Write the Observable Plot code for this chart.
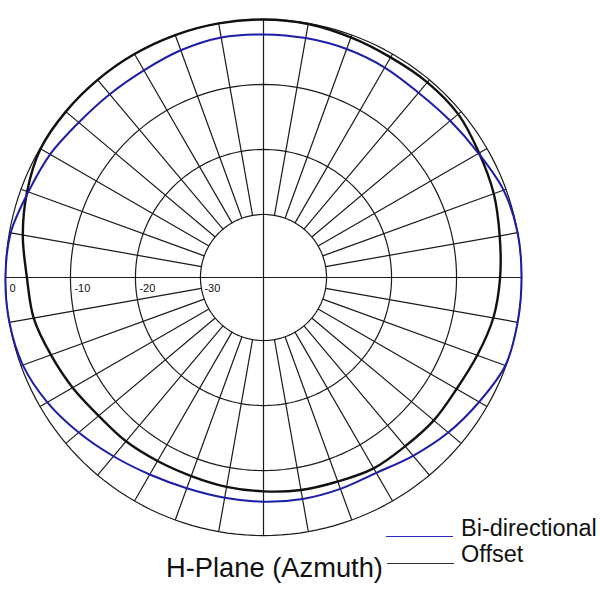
<!DOCTYPE html>
<html><head><meta charset="utf-8">
<script src="https://cdn.jsdelivr.net/npm/d3@7"></script>
<script src="https://cdn.jsdelivr.net/npm/@observablehq/plot@0.6"></script>
<style>
body{margin:0;background:#fff;font-family:"Liberation Sans",Arial,sans-serif;}
#wrap{position:relative;width:600px;height:600px;overflow:hidden;}
#chart{position:absolute;left:0;top:0;}
.lg{position:absolute;line-height:1;color:#111;white-space:nowrap;}
.sw{position:absolute;height:0;width:67px;}
</style></head><body>
<div id="wrap">
  <div id="chart"></div>
  <div class="sw" style="left:386px;top:536px;border-top:1.5px solid #2b2bc0;"></div>
  <div class="lg" style="left:461px;top:517px;font-size:23.5px;">Bi-directional</div>
  <div class="sw" style="left:387px;top:563px;border-top:1.5px solid #333;"></div>
  <div class="lg" style="left:461px;top:543px;font-size:23.5px;">Offset</div>
  <div class="lg" style="left:166px;top:554px;font-size:27.3px;">H-Plane (Azmuth)</div>
</div>
<script>
// Angles in degrees (counter-clockwise from the right-hand horizontal axis)
const angles = [0,10,20,30,40,50,60,70,80,90,100,110,120,130,140,150,160,170,
                180,190,200,210,220,230,240,250,260,270,280,290,300,310,320,330,340,350];
// Relative gain in dB
const biDirectional = [0,0,-0.4,-1.5,-2.2,-2.6,-2.4,-2.3,-2.3,-2.3,-2.2,-2.5,-2.9,-2.9,-2.6,-1.8,-1.2,-0.2,
                       0,0,-0.3,-1.3,-2.6,-3.8,-4.7,-5.2,-5.3,-5.2,-5.1,-5.1,-5.0,-3.9,-2.6,-1.4,-0.1,0];
const offset = [-3.3,-2.8,-2.0,-1.4,-0.6,-0.5,-0.6,-0.4,-0.1,0,0,0,0,0,0,-0.1,-1.0,-2.1,
                -3.3,-3.8,-4.9,-5.8,-6.6,-6.8,-7.1,-7.2,-7.0,-6.8,-6.5,-6.3,-5.8,-5.8,-5.5,-5.4,-4.7,-3.8];
// Grid
const ringLevels = [0, -10, -20, -30];
const ringLabels = ["0", "-10", "-20", "-30"];
const spokeAngles = d3.range(0, 360, 10);
const centerDb = -39.7; // dB value mapped to the pattern centre

const rad = db => db - centerDb;
const px = (a, db) => rad(db) * Math.cos(a * Math.PI / 180);
const py = (a, db) => rad(db) * Math.sin(a * Math.PI / 180);

const blueData = angles.map((a, i) => ({x: px(a, biDirectional[i]), y: py(a, biDirectional[i])}));
const blackData = angles.map((a, i) => ({x: px(a, offset[i]), y: py(a, offset[i])}));

const ringData = ringLevels.flatMap(l => d3.range(0, 360, 2).map(a => ({level: l, x: px(a, l), y: py(a, l)})));
const spokes = spokeAngles.map(a => {
  const inner = a % 90 === 0 ? centerDb : -30;
  return {x1: px(a, inner), y1: py(a, inner), x2: px(a, 0), y2: py(a, 0)};
});
const labels = ringLevels.map((l, i) => ({x: px(180, l), y: 0, text: ringLabels[i]}));

const k = 6.5;
const chart = Plot.plot({
  width: 600, height: 600, margin: 0,
  x: {domain: [-263 / k, 337 / k], axis: null},
  y: {domain: [-323 / k, 277 / k], axis: null},
  marks: [
    Plot.line(ringData, {x: "x", y: "y", z: "level", curve: "linear-closed", stroke: "#1a1a1a", strokeWidth: 1.2}),
    Plot.link(spokes, {x1: "x1", y1: "y1", x2: "x2", y2: "y2", stroke: "#1a1a1a", strokeWidth: 1.2}),
    Plot.text(labels, {x: "x", y: "y", text: "text", textAnchor: "start", dx: 4, dy: 11, fontSize: 11, fill: "#111", fontFamily: "Liberation Sans, Arial, sans-serif"}),
    Plot.line(blackData, {x: "x", y: "y", curve: "catmull-rom-closed", stroke: "#111", strokeWidth: 2.4}),
    Plot.line(blueData, {x: "x", y: "y", curve: "catmull-rom-closed", stroke: "#1c1ca8", strokeWidth: 2})
  ]
});
document.getElementById("chart").appendChild(chart);
</script>
</body></html>
